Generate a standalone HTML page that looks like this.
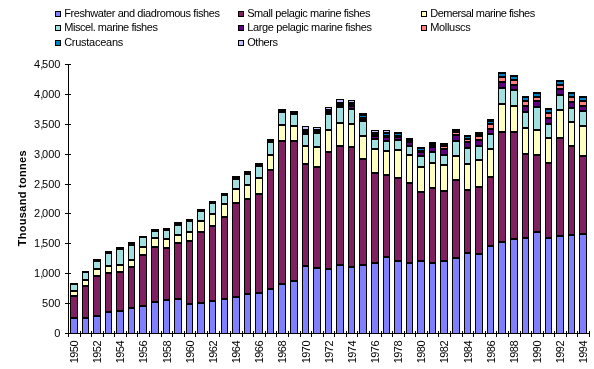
<!DOCTYPE html>
<html><head><meta charset="utf-8"><style>
html,body{margin:0;padding:0;background:#fff;width:594px;height:369px;overflow:hidden}
svg{display:block}
.txt{will-change:transform}
.t{font-family:"Liberation Sans",sans-serif;font-size:11px;fill:#000}
.lg{letter-spacing:-0.45px}
.xl{letter-spacing:-0.55px}
.yt{font-family:"Liberation Sans",sans-serif;font-size:11px;font-weight:bold;fill:#000;letter-spacing:0.3px}
</style></head><body>
<svg width="594" height="369" viewBox="0 0 594 369" shape-rendering="crispEdges">
<rect width="594" height="369" fill="#fff"/>
<rect x="70" y="283" width="8" height="50" fill="#000"/>
<rect x="71" y="285" width="6" height="5" fill="#A0E0E0"/>
<rect x="71" y="292" width="6" height="3" fill="#FFFFC0"/>
<rect x="71" y="297" width="6" height="20" fill="#802060"/>
<rect x="71" y="319" width="6" height="14" fill="#8080FF"/>
<rect x="82" y="271" width="7" height="62" fill="#000"/>
<rect x="83" y="273" width="5" height="6" fill="#A0E0E0"/>
<rect x="83" y="281" width="5" height="4" fill="#FFFFC0"/>
<rect x="83" y="287" width="5" height="30" fill="#802060"/>
<rect x="83" y="319" width="5" height="14" fill="#8080FF"/>
<rect x="93" y="259" width="8" height="74" fill="#000"/>
<rect x="94" y="262" width="6" height="6" fill="#A0E0E0"/>
<rect x="94" y="270" width="6" height="5" fill="#FFFFC0"/>
<rect x="94" y="277" width="6" height="38" fill="#802060"/>
<rect x="94" y="317" width="6" height="16" fill="#8080FF"/>
<rect x="105" y="251" width="7" height="82" fill="#000"/>
<rect x="106" y="254" width="5" height="11" fill="#A0E0E0"/>
<rect x="106" y="267" width="5" height="5" fill="#FFFFC0"/>
<rect x="106" y="274" width="5" height="37" fill="#802060"/>
<rect x="106" y="313" width="5" height="20" fill="#8080FF"/>
<rect x="116" y="247" width="8" height="86" fill="#000"/>
<rect x="117" y="250" width="6" height="14" fill="#A0E0E0"/>
<rect x="117" y="266" width="6" height="5" fill="#FFFFC0"/>
<rect x="117" y="273" width="6" height="37" fill="#802060"/>
<rect x="117" y="312" width="6" height="21" fill="#8080FF"/>
<rect x="128" y="242" width="7" height="91" fill="#000"/>
<rect x="129" y="246" width="5" height="13" fill="#A0E0E0"/>
<rect x="129" y="261" width="5" height="5" fill="#FFFFC0"/>
<rect x="129" y="268" width="5" height="39" fill="#802060"/>
<rect x="129" y="309" width="5" height="24" fill="#8080FF"/>
<rect x="139" y="236" width="8" height="97" fill="#000"/>
<rect x="140" y="238" width="6" height="8" fill="#A0E0E0"/>
<rect x="140" y="248" width="6" height="6" fill="#FFFFC0"/>
<rect x="140" y="256" width="6" height="49" fill="#802060"/>
<rect x="140" y="307" width="6" height="26" fill="#8080FF"/>
<rect x="151" y="229" width="8" height="104" fill="#000"/>
<rect x="152" y="232" width="6" height="5" fill="#A0E0E0"/>
<rect x="152" y="239" width="6" height="7" fill="#FFFFC0"/>
<rect x="152" y="248" width="6" height="53" fill="#802060"/>
<rect x="152" y="303" width="6" height="30" fill="#8080FF"/>
<rect x="163" y="228" width="7" height="105" fill="#000"/>
<rect x="164" y="231" width="5" height="7" fill="#A0E0E0"/>
<rect x="164" y="240" width="5" height="7" fill="#FFFFC0"/>
<rect x="164" y="249" width="5" height="50" fill="#802060"/>
<rect x="164" y="301" width="5" height="32" fill="#8080FF"/>
<rect x="174" y="222" width="8" height="111" fill="#000"/>
<rect x="175" y="226" width="6" height="8" fill="#A0E0E0"/>
<rect x="175" y="236" width="6" height="6" fill="#FFFFC0"/>
<rect x="175" y="244" width="6" height="54" fill="#802060"/>
<rect x="175" y="300" width="6" height="33" fill="#8080FF"/>
<rect x="186" y="219" width="7" height="114" fill="#000"/>
<rect x="187" y="222" width="5" height="9" fill="#A0E0E0"/>
<rect x="187" y="233" width="5" height="7" fill="#FFFFC0"/>
<rect x="187" y="242" width="5" height="61" fill="#802060"/>
<rect x="187" y="305" width="5" height="28" fill="#8080FF"/>
<rect x="197" y="209" width="8" height="124" fill="#000"/>
<rect x="198" y="212" width="6" height="8" fill="#A0E0E0"/>
<rect x="198" y="222" width="6" height="9" fill="#FFFFC0"/>
<rect x="198" y="233" width="6" height="69" fill="#802060"/>
<rect x="198" y="304" width="6" height="29" fill="#8080FF"/>
<rect x="209" y="201" width="7" height="132" fill="#000"/>
<rect x="210" y="204" width="5" height="9" fill="#A0E0E0"/>
<rect x="210" y="215" width="5" height="10" fill="#FFFFC0"/>
<rect x="210" y="227" width="5" height="73" fill="#802060"/>
<rect x="210" y="302" width="5" height="31" fill="#8080FF"/>
<rect x="221" y="193" width="7" height="140" fill="#000"/>
<rect x="222" y="196" width="5" height="7" fill="#A0E0E0"/>
<rect x="222" y="205" width="5" height="11" fill="#FFFFC0"/>
<rect x="222" y="218" width="5" height="80" fill="#802060"/>
<rect x="222" y="300" width="5" height="33" fill="#8080FF"/>
<rect x="232" y="176" width="8" height="157" fill="#000"/>
<rect x="233" y="180" width="6" height="8" fill="#A0E0E0"/>
<rect x="233" y="190" width="6" height="12" fill="#FFFFC0"/>
<rect x="233" y="204" width="6" height="92" fill="#802060"/>
<rect x="233" y="298" width="6" height="35" fill="#8080FF"/>
<rect x="244" y="171" width="7" height="162" fill="#000"/>
<rect x="245" y="175" width="5" height="9" fill="#A0E0E0"/>
<rect x="245" y="186" width="5" height="12" fill="#FFFFC0"/>
<rect x="245" y="200" width="5" height="93" fill="#802060"/>
<rect x="245" y="295" width="5" height="38" fill="#8080FF"/>
<rect x="255" y="163" width="8" height="170" fill="#000"/>
<rect x="256" y="167" width="6" height="10" fill="#A0E0E0"/>
<rect x="256" y="179" width="6" height="14" fill="#FFFFC0"/>
<rect x="256" y="195" width="6" height="97" fill="#802060"/>
<rect x="256" y="294" width="6" height="39" fill="#8080FF"/>
<rect x="267" y="139" width="7" height="194" fill="#000"/>
<rect x="268" y="143" width="5" height="11" fill="#A0E0E0"/>
<rect x="268" y="156" width="5" height="13" fill="#FFFFC0"/>
<rect x="268" y="171" width="5" height="117" fill="#802060"/>
<rect x="268" y="290" width="5" height="43" fill="#8080FF"/>
<rect x="278" y="109" width="8" height="224" fill="#000"/>
<rect x="279" y="113" width="6" height="11" fill="#A0E0E0"/>
<rect x="279" y="126" width="6" height="14" fill="#FFFFC0"/>
<rect x="279" y="142" width="6" height="141" fill="#802060"/>
<rect x="279" y="285" width="6" height="48" fill="#8080FF"/>
<rect x="290" y="111" width="8" height="222" fill="#000"/>
<rect x="291" y="115" width="6" height="10" fill="#A0E0E0"/>
<rect x="291" y="127" width="6" height="13" fill="#FFFFC0"/>
<rect x="291" y="142" width="6" height="138" fill="#802060"/>
<rect x="291" y="282" width="6" height="51" fill="#8080FF"/>
<rect x="302" y="126" width="7" height="207" fill="#000"/>
<rect x="303" y="127" width="5" height="2" fill="#C0C0FF"/>
<rect x="303" y="135" width="5" height="10" fill="#A0E0E0"/>
<rect x="303" y="147" width="5" height="16" fill="#FFFFC0"/>
<rect x="303" y="165" width="5" height="100" fill="#802060"/>
<rect x="303" y="267" width="5" height="66" fill="#8080FF"/>
<rect x="313" y="127" width="8" height="206" fill="#000"/>
<rect x="314" y="128" width="6" height="1" fill="#C0C0FF"/>
<rect x="314" y="134" width="6" height="12" fill="#A0E0E0"/>
<rect x="314" y="148" width="6" height="18" fill="#FFFFC0"/>
<rect x="314" y="168" width="6" height="99" fill="#802060"/>
<rect x="314" y="269" width="6" height="64" fill="#8080FF"/>
<rect x="325" y="107" width="7" height="226" fill="#000"/>
<rect x="326" y="108" width="5" height="1" fill="#C0C0FF"/>
<rect x="326" y="115" width="5" height="14" fill="#A0E0E0"/>
<rect x="326" y="131" width="5" height="20" fill="#FFFFC0"/>
<rect x="326" y="153" width="5" height="115" fill="#802060"/>
<rect x="326" y="270" width="5" height="63" fill="#8080FF"/>
<rect x="336" y="99" width="8" height="234" fill="#000"/>
<rect x="337" y="100" width="6" height="2" fill="#C0C0FF"/>
<rect x="337" y="108" width="6" height="14" fill="#A0E0E0"/>
<rect x="337" y="124" width="6" height="21" fill="#FFFFC0"/>
<rect x="337" y="147" width="6" height="117" fill="#802060"/>
<rect x="337" y="266" width="6" height="67" fill="#8080FF"/>
<rect x="348" y="100" width="7" height="233" fill="#000"/>
<rect x="349" y="101" width="5" height="1" fill="#C0C0FF"/>
<rect x="349" y="107" width="5" height="1" fill="#600080"/>
<rect x="349" y="110" width="5" height="13" fill="#A0E0E0"/>
<rect x="349" y="125" width="5" height="21" fill="#FFFFC0"/>
<rect x="349" y="148" width="5" height="118" fill="#802060"/>
<rect x="349" y="268" width="5" height="65" fill="#8080FF"/>
<rect x="359" y="113" width="8" height="220" fill="#000"/>
<rect x="360" y="116" width="6" height="1" fill="#0080C0"/>
<rect x="360" y="122" width="6" height="13" fill="#A0E0E0"/>
<rect x="360" y="137" width="6" height="21" fill="#FFFFC0"/>
<rect x="360" y="160" width="6" height="104" fill="#802060"/>
<rect x="360" y="266" width="6" height="67" fill="#8080FF"/>
<rect x="371" y="130" width="8" height="203" fill="#000"/>
<rect x="372" y="131" width="6" height="1" fill="#C0C0FF"/>
<rect x="372" y="137" width="6" height="1" fill="#600080"/>
<rect x="372" y="140" width="6" height="8" fill="#A0E0E0"/>
<rect x="372" y="150" width="6" height="22" fill="#FFFFC0"/>
<rect x="372" y="174" width="6" height="88" fill="#802060"/>
<rect x="372" y="264" width="6" height="69" fill="#8080FF"/>
<rect x="383" y="130" width="7" height="203" fill="#000"/>
<rect x="384" y="131" width="5" height="1" fill="#C0C0FF"/>
<rect x="384" y="134" width="5" height="1" fill="#0080C0"/>
<rect x="384" y="138" width="5" height="2" fill="#600080"/>
<rect x="384" y="142" width="5" height="8" fill="#A0E0E0"/>
<rect x="384" y="152" width="5" height="22" fill="#FFFFC0"/>
<rect x="384" y="176" width="5" height="80" fill="#802060"/>
<rect x="384" y="258" width="5" height="75" fill="#8080FF"/>
<rect x="394" y="132" width="8" height="201" fill="#000"/>
<rect x="395" y="134" width="6" height="1" fill="#0080C0"/>
<rect x="395" y="138" width="6" height="1" fill="#600080"/>
<rect x="395" y="141" width="6" height="8" fill="#A0E0E0"/>
<rect x="395" y="151" width="6" height="26" fill="#FFFFC0"/>
<rect x="395" y="179" width="6" height="81" fill="#802060"/>
<rect x="395" y="262" width="6" height="71" fill="#8080FF"/>
<rect x="406" y="138" width="7" height="195" fill="#000"/>
<rect x="407" y="143" width="5" height="2" fill="#600080"/>
<rect x="407" y="147" width="5" height="7" fill="#A0E0E0"/>
<rect x="407" y="156" width="5" height="26" fill="#FFFFC0"/>
<rect x="407" y="184" width="5" height="78" fill="#802060"/>
<rect x="407" y="264" width="5" height="69" fill="#8080FF"/>
<rect x="417" y="147" width="8" height="186" fill="#000"/>
<rect x="418" y="149" width="6" height="1" fill="#0080C0"/>
<rect x="418" y="153" width="6" height="2" fill="#600080"/>
<rect x="418" y="157" width="6" height="9" fill="#A0E0E0"/>
<rect x="418" y="168" width="6" height="23" fill="#FFFFC0"/>
<rect x="418" y="193" width="6" height="67" fill="#802060"/>
<rect x="418" y="262" width="6" height="71" fill="#8080FF"/>
<rect x="429" y="142" width="7" height="191" fill="#000"/>
<rect x="430" y="148" width="5" height="3" fill="#600080"/>
<rect x="430" y="153" width="5" height="9" fill="#A0E0E0"/>
<rect x="430" y="164" width="5" height="23" fill="#FFFFC0"/>
<rect x="430" y="189" width="5" height="73" fill="#802060"/>
<rect x="430" y="264" width="5" height="69" fill="#8080FF"/>
<rect x="440" y="143" width="8" height="190" fill="#000"/>
<rect x="441" y="147" width="6" height="1" fill="#FF8080"/>
<rect x="441" y="150" width="6" height="4" fill="#600080"/>
<rect x="441" y="156" width="6" height="8" fill="#A0E0E0"/>
<rect x="441" y="166" width="6" height="24" fill="#FFFFC0"/>
<rect x="441" y="192" width="6" height="68" fill="#802060"/>
<rect x="441" y="262" width="6" height="71" fill="#8080FF"/>
<rect x="452" y="129" width="8" height="204" fill="#000"/>
<rect x="453" y="133" width="6" height="1" fill="#FF8080"/>
<rect x="453" y="136" width="6" height="4" fill="#600080"/>
<rect x="453" y="142" width="6" height="13" fill="#A0E0E0"/>
<rect x="453" y="157" width="6" height="22" fill="#FFFFC0"/>
<rect x="453" y="181" width="6" height="76" fill="#802060"/>
<rect x="453" y="259" width="6" height="74" fill="#8080FF"/>
<rect x="464" y="135" width="7" height="198" fill="#000"/>
<rect x="465" y="137" width="5" height="1" fill="#0080C0"/>
<rect x="465" y="140" width="5" height="1" fill="#FF8080"/>
<rect x="465" y="143" width="5" height="4" fill="#600080"/>
<rect x="465" y="149" width="5" height="14" fill="#A0E0E0"/>
<rect x="465" y="165" width="5" height="24" fill="#FFFFC0"/>
<rect x="465" y="191" width="5" height="61" fill="#802060"/>
<rect x="465" y="254" width="5" height="79" fill="#8080FF"/>
<rect x="475" y="132" width="8" height="201" fill="#000"/>
<rect x="476" y="137" width="6" height="2" fill="#FF8080"/>
<rect x="476" y="141" width="6" height="4" fill="#600080"/>
<rect x="476" y="147" width="6" height="12" fill="#A0E0E0"/>
<rect x="476" y="161" width="6" height="25" fill="#FFFFC0"/>
<rect x="476" y="188" width="6" height="65" fill="#802060"/>
<rect x="476" y="255" width="6" height="78" fill="#8080FF"/>
<rect x="487" y="119" width="7" height="214" fill="#000"/>
<rect x="488" y="122" width="5" height="1" fill="#0080C0"/>
<rect x="488" y="125" width="5" height="3" fill="#FF8080"/>
<rect x="488" y="130" width="5" height="3" fill="#600080"/>
<rect x="488" y="135" width="5" height="13" fill="#A0E0E0"/>
<rect x="488" y="150" width="5" height="26" fill="#FFFFC0"/>
<rect x="488" y="178" width="5" height="67" fill="#802060"/>
<rect x="488" y="247" width="5" height="86" fill="#8080FF"/>
<rect x="498" y="72" width="8" height="261" fill="#000"/>
<rect x="499" y="74" width="6" height="2" fill="#0080C0"/>
<rect x="499" y="78" width="6" height="3" fill="#FF8080"/>
<rect x="499" y="83" width="6" height="4" fill="#600080"/>
<rect x="499" y="89" width="6" height="14" fill="#A0E0E0"/>
<rect x="499" y="105" width="6" height="26" fill="#FFFFC0"/>
<rect x="499" y="133" width="6" height="108" fill="#802060"/>
<rect x="499" y="243" width="6" height="90" fill="#8080FF"/>
<rect x="510" y="75" width="8" height="258" fill="#000"/>
<rect x="511" y="77" width="6" height="2" fill="#0080C0"/>
<rect x="511" y="81" width="6" height="3" fill="#FF8080"/>
<rect x="511" y="86" width="6" height="3" fill="#600080"/>
<rect x="511" y="91" width="6" height="14" fill="#A0E0E0"/>
<rect x="511" y="107" width="6" height="24" fill="#FFFFC0"/>
<rect x="511" y="133" width="6" height="105" fill="#802060"/>
<rect x="511" y="240" width="6" height="93" fill="#8080FF"/>
<rect x="522" y="96" width="7" height="237" fill="#000"/>
<rect x="523" y="98" width="5" height="2" fill="#0080C0"/>
<rect x="523" y="102" width="5" height="3" fill="#FF8080"/>
<rect x="523" y="107" width="5" height="4" fill="#600080"/>
<rect x="523" y="113" width="5" height="14" fill="#A0E0E0"/>
<rect x="523" y="129" width="5" height="24" fill="#FFFFC0"/>
<rect x="523" y="155" width="5" height="82" fill="#802060"/>
<rect x="523" y="239" width="5" height="94" fill="#8080FF"/>
<rect x="533" y="92" width="8" height="241" fill="#000"/>
<rect x="534" y="94" width="6" height="2" fill="#0080C0"/>
<rect x="534" y="98" width="6" height="2" fill="#FF8080"/>
<rect x="534" y="102" width="6" height="4" fill="#600080"/>
<rect x="534" y="108" width="6" height="21" fill="#A0E0E0"/>
<rect x="534" y="131" width="6" height="23" fill="#FFFFC0"/>
<rect x="534" y="156" width="6" height="75" fill="#802060"/>
<rect x="534" y="233" width="6" height="100" fill="#8080FF"/>
<rect x="545" y="108" width="7" height="225" fill="#000"/>
<rect x="546" y="110" width="5" height="2" fill="#0080C0"/>
<rect x="546" y="114" width="5" height="3" fill="#FF8080"/>
<rect x="546" y="119" width="5" height="4" fill="#600080"/>
<rect x="546" y="125" width="5" height="12" fill="#A0E0E0"/>
<rect x="546" y="139" width="5" height="23" fill="#FFFFC0"/>
<rect x="546" y="164" width="5" height="73" fill="#802060"/>
<rect x="546" y="239" width="5" height="94" fill="#8080FF"/>
<rect x="556" y="80" width="8" height="253" fill="#000"/>
<rect x="557" y="82" width="6" height="2" fill="#0080C0"/>
<rect x="557" y="86" width="6" height="2" fill="#FF8080"/>
<rect x="557" y="90" width="6" height="4" fill="#600080"/>
<rect x="557" y="96" width="6" height="13" fill="#A0E0E0"/>
<rect x="557" y="111" width="6" height="26" fill="#FFFFC0"/>
<rect x="557" y="139" width="6" height="96" fill="#802060"/>
<rect x="557" y="237" width="6" height="96" fill="#8080FF"/>
<rect x="568" y="92" width="7" height="241" fill="#000"/>
<rect x="569" y="94" width="5" height="2" fill="#0080C0"/>
<rect x="569" y="98" width="5" height="3" fill="#FF8080"/>
<rect x="569" y="103" width="5" height="4" fill="#600080"/>
<rect x="569" y="109" width="5" height="12" fill="#A0E0E0"/>
<rect x="569" y="123" width="5" height="22" fill="#FFFFC0"/>
<rect x="569" y="147" width="5" height="87" fill="#802060"/>
<rect x="569" y="236" width="5" height="97" fill="#8080FF"/>
<rect x="579" y="96" width="8" height="237" fill="#000"/>
<rect x="580" y="98" width="6" height="2" fill="#0080C0"/>
<rect x="580" y="102" width="6" height="3" fill="#FF8080"/>
<rect x="580" y="107" width="6" height="3" fill="#600080"/>
<rect x="580" y="112" width="6" height="13" fill="#A0E0E0"/>
<rect x="580" y="127" width="6" height="28" fill="#FFFFC0"/>
<rect x="580" y="157" width="6" height="76" fill="#802060"/>
<rect x="580" y="235" width="6" height="98" fill="#8080FF"/>
<rect x="68" y="64" width="1" height="273" fill="#000"/>
<rect x="65" y="333" width="525" height="1" fill="#000"/>
<rect x="65" y="333" width="6" height="1" fill="#000"/>
<rect x="65" y="303" width="6" height="1" fill="#000"/>
<rect x="65" y="273" width="6" height="1" fill="#000"/>
<rect x="65" y="243" width="6" height="1" fill="#000"/>
<rect x="65" y="213" width="6" height="1" fill="#000"/>
<rect x="65" y="184" width="6" height="1" fill="#000"/>
<rect x="65" y="154" width="6" height="1" fill="#000"/>
<rect x="65" y="124" width="6" height="1" fill="#000"/>
<rect x="65" y="94" width="6" height="1" fill="#000"/>
<rect x="65" y="64" width="6" height="1" fill="#000"/>
<rect x="68" y="331" width="1" height="6" fill="#000"/>
<rect x="80" y="331" width="1" height="6" fill="#000"/>
<rect x="91" y="331" width="1" height="6" fill="#000"/>
<rect x="103" y="331" width="1" height="6" fill="#000"/>
<rect x="114" y="331" width="1" height="6" fill="#000"/>
<rect x="126" y="331" width="1" height="6" fill="#000"/>
<rect x="137" y="331" width="1" height="6" fill="#000"/>
<rect x="149" y="331" width="1" height="6" fill="#000"/>
<rect x="161" y="331" width="1" height="6" fill="#000"/>
<rect x="172" y="331" width="1" height="6" fill="#000"/>
<rect x="184" y="331" width="1" height="6" fill="#000"/>
<rect x="195" y="331" width="1" height="6" fill="#000"/>
<rect x="207" y="331" width="1" height="6" fill="#000"/>
<rect x="219" y="331" width="1" height="6" fill="#000"/>
<rect x="230" y="331" width="1" height="6" fill="#000"/>
<rect x="242" y="331" width="1" height="6" fill="#000"/>
<rect x="253" y="331" width="1" height="6" fill="#000"/>
<rect x="265" y="331" width="1" height="6" fill="#000"/>
<rect x="276" y="331" width="1" height="6" fill="#000"/>
<rect x="288" y="331" width="1" height="6" fill="#000"/>
<rect x="300" y="331" width="1" height="6" fill="#000"/>
<rect x="311" y="331" width="1" height="6" fill="#000"/>
<rect x="323" y="331" width="1" height="6" fill="#000"/>
<rect x="334" y="331" width="1" height="6" fill="#000"/>
<rect x="346" y="331" width="1" height="6" fill="#000"/>
<rect x="357" y="331" width="1" height="6" fill="#000"/>
<rect x="369" y="331" width="1" height="6" fill="#000"/>
<rect x="381" y="331" width="1" height="6" fill="#000"/>
<rect x="392" y="331" width="1" height="6" fill="#000"/>
<rect x="404" y="331" width="1" height="6" fill="#000"/>
<rect x="415" y="331" width="1" height="6" fill="#000"/>
<rect x="427" y="331" width="1" height="6" fill="#000"/>
<rect x="438" y="331" width="1" height="6" fill="#000"/>
<rect x="450" y="331" width="1" height="6" fill="#000"/>
<rect x="462" y="331" width="1" height="6" fill="#000"/>
<rect x="473" y="331" width="1" height="6" fill="#000"/>
<rect x="485" y="331" width="1" height="6" fill="#000"/>
<rect x="496" y="331" width="1" height="6" fill="#000"/>
<rect x="508" y="331" width="1" height="6" fill="#000"/>
<rect x="520" y="331" width="1" height="6" fill="#000"/>
<rect x="531" y="331" width="1" height="6" fill="#000"/>
<rect x="543" y="331" width="1" height="6" fill="#000"/>
<rect x="554" y="331" width="1" height="6" fill="#000"/>
<rect x="566" y="331" width="1" height="6" fill="#000"/>
<rect x="577" y="331" width="1" height="6" fill="#000"/>
<rect x="589" y="331" width="1" height="6" fill="#000"/>
<g class="txt">
<text x="60.4" y="337" text-anchor="end" class="t">0</text>
<text x="60.4" y="307" text-anchor="end" class="t">500</text>
<text x="60.4" y="277" text-anchor="end" class="t">1<tspan letter-spacing="-1.2px">,</tspan>000</text>
<text x="60.4" y="247" text-anchor="end" class="t">1<tspan letter-spacing="-1.2px">,</tspan>500</text>
<text x="60.4" y="217" text-anchor="end" class="t">2<tspan letter-spacing="-1.2px">,</tspan>000</text>
<text x="60.4" y="188" text-anchor="end" class="t">2<tspan letter-spacing="-1.2px">,</tspan>500</text>
<text x="60.4" y="158" text-anchor="end" class="t">3<tspan letter-spacing="-1.2px">,</tspan>000</text>
<text x="60.4" y="128" text-anchor="end" class="t">3<tspan letter-spacing="-1.2px">,</tspan>500</text>
<text x="60.4" y="98" text-anchor="end" class="t">4<tspan letter-spacing="-1.2px">,</tspan>000</text>
<text x="60.4" y="68" text-anchor="end" class="t">4<tspan letter-spacing="-1.2px">,</tspan>500</text>
<text transform="translate(77.99,341) rotate(-90)" text-anchor="end" class="t xl">1950</text>
<text transform="translate(101.14,341) rotate(-90)" text-anchor="end" class="t xl">1952</text>
<text transform="translate(124.30,341) rotate(-90)" text-anchor="end" class="t xl">1954</text>
<text transform="translate(147.46,341) rotate(-90)" text-anchor="end" class="t xl">1956</text>
<text transform="translate(170.61,341) rotate(-90)" text-anchor="end" class="t xl">1958</text>
<text transform="translate(193.77,341) rotate(-90)" text-anchor="end" class="t xl">1960</text>
<text transform="translate(216.92,341) rotate(-90)" text-anchor="end" class="t xl">1962</text>
<text transform="translate(240.08,341) rotate(-90)" text-anchor="end" class="t xl">1964</text>
<text transform="translate(263.23,341) rotate(-90)" text-anchor="end" class="t xl">1966</text>
<text transform="translate(286.39,341) rotate(-90)" text-anchor="end" class="t xl">1968</text>
<text transform="translate(309.54,341) rotate(-90)" text-anchor="end" class="t xl">1970</text>
<text transform="translate(332.70,341) rotate(-90)" text-anchor="end" class="t xl">1972</text>
<text transform="translate(355.86,341) rotate(-90)" text-anchor="end" class="t xl">1974</text>
<text transform="translate(379.01,341) rotate(-90)" text-anchor="end" class="t xl">1976</text>
<text transform="translate(402.17,341) rotate(-90)" text-anchor="end" class="t xl">1978</text>
<text transform="translate(425.32,341) rotate(-90)" text-anchor="end" class="t xl">1980</text>
<text transform="translate(448.48,341) rotate(-90)" text-anchor="end" class="t xl">1982</text>
<text transform="translate(471.63,341) rotate(-90)" text-anchor="end" class="t xl">1984</text>
<text transform="translate(494.79,341) rotate(-90)" text-anchor="end" class="t xl">1986</text>
<text transform="translate(517.95,341) rotate(-90)" text-anchor="end" class="t xl">1988</text>
<text transform="translate(541.10,341) rotate(-90)" text-anchor="end" class="t xl">1990</text>
<text transform="translate(564.26,341) rotate(-90)" text-anchor="end" class="t xl">1992</text>
<text transform="translate(587.41,341) rotate(-90)" text-anchor="end" class="t xl">1994</text>
<text transform="translate(26,198.2) rotate(-90)" text-anchor="middle" class="yt">Thousand tonnes</text>
<rect x="55" y="11" width="6" height="6" fill="#000"/><rect x="56" y="12" width="4" height="4" fill="#8080FF"/>
<text x="64.2" y="17" class="t" letter-spacing="-0.42px">Freshwater and diadromous fishes</text>
<rect x="238" y="11" width="6" height="6" fill="#000"/><rect x="239" y="12" width="4" height="4" fill="#802060"/>
<text x="247.2" y="17" class="t" letter-spacing="-0.41px">Small pelagic marine fishes</text>
<rect x="421" y="11" width="6" height="6" fill="#000"/><rect x="422" y="12" width="4" height="4" fill="#FFFFC0"/>
<text x="430.2" y="17" class="t" letter-spacing="-0.5px">Demersal marine fishes</text>
<rect x="55" y="25" width="6" height="6" fill="#000"/><rect x="56" y="26" width="4" height="4" fill="#A0E0E0"/>
<text x="64.2" y="31" class="t" letter-spacing="-0.45px">Miscel. marine fishes</text>
<rect x="238" y="25" width="6" height="6" fill="#000"/><rect x="239" y="26" width="4" height="4" fill="#600080"/>
<text x="247.2" y="31" class="t" letter-spacing="-0.37px">Large pelagic marine fishes</text>
<rect x="421" y="25" width="6" height="6" fill="#000"/><rect x="422" y="26" width="4" height="4" fill="#FF8080"/>
<text x="430.2" y="31" class="t" letter-spacing="-0.31px">Molluscs</text>
<rect x="55" y="40" width="6" height="6" fill="#000"/><rect x="56" y="41" width="4" height="4" fill="#0080C0"/>
<text x="64.2" y="46" class="t" letter-spacing="-0.27px">Crustaceans</text>
<rect x="238" y="40" width="6" height="6" fill="#000"/><rect x="239" y="41" width="4" height="4" fill="#C0C0FF"/>
<text x="247.2" y="46" class="t" letter-spacing="-0.45px">Others</text>
</g>
</svg>
</body></html>
